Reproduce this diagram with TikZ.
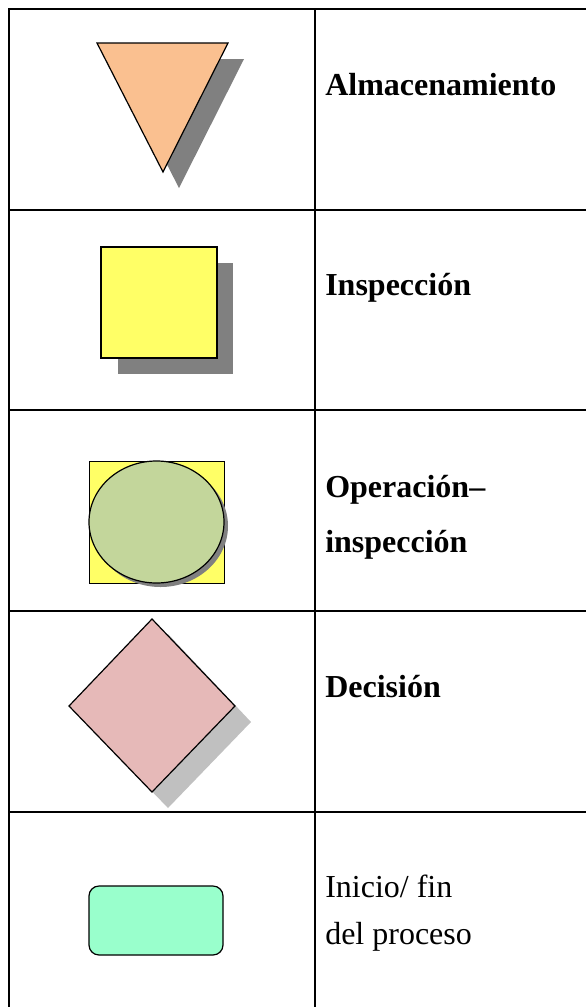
\documentclass[tikz,border=0pt]{standalone}
\usepackage{fontspec}
\setmainfont{Liberation Serif}
\usepackage{xcolor}
\usepackage{tikz}

\definecolor{almacen}{RGB}{250,192,144}
\definecolor{amarillo}{RGB}{255,255,102}
\definecolor{verdeoliva}{RGB}{195,214,155}
\definecolor{rosa}{RGB}{230,185,184}
\definecolor{menta}{RGB}{153,255,204}
\definecolor{sombra}{RGB}{128,128,128}
\definecolor{sombraclara}{RGB}{192,192,192}

\tikzset{
  tabla/.style={line width=1.5pt, black},
  figura/.style={line width=0.9pt, black},
  etiqueta/.style={anchor=base west, inner sep=0pt, font=\fontsize{24}{28}\selectfont}
}

\begin{document}
\begin{tikzpicture}[x=0.75pt, y=-0.75pt]
    \useasboundingbox (0,0) rectangle (586,1007);
    % 1. Tabla
    \draw[tabla] (9,1007) -- (9,9) -- (586,9);
    \draw[tabla] (315,9) -- (315,1007);
    \foreach \f in {210,410,611,812}
        \draw[tabla] (9,\f) -- (586,\f);

    % 2. Almacenamiento
    \fill[sombra] (113,59) -- (244,59) -- (179,188) -- cycle;
    \draw[figura, fill=almacen] (97,43) -- (228,43) -- (163,172) -- cycle;
    \node[etiqueta] (almacen) at (325,95) {\bfseries Almacenamiento};

    % 3. Inspección
    \fill[sombra] (118,263) rectangle (233,374);
    \draw[figura, fill=amarillo] (101,247) rectangle (217,358);
    \node[etiqueta] (inspec) at (325,295) {\bfseries Inspección};

    % 4. Operación--inspección
    \draw[line width=0.6pt, fill=amarillo] (89,461) rectangle (224,583);
    \fill[sombra] (160.5,526) ellipse [x radius=67.5, y radius=61];
    \draw[figura, fill=verdeoliva] (156.5,522) ellipse [x radius=67.5, y radius=61];
    \node[etiqueta] (operac) at (325,497) {\bfseries Operación–};
    \node[etiqueta] (operinsp) at (325,552) {\bfseries inspección};

    % 5. Decisión
    \fill[sombraclara] (168,634) -- (251,722) -- (168,808) -- (85,722) -- cycle;
    \draw[figura, fill=rosa] (152,619) -- (235,706) -- (152,792) -- (69,706) -- cycle;
    \node[etiqueta] (decis) at (325,697) {\bfseries Decisión};

    % 6. Inicio / fin
    \draw[figura, fill=menta, rounded corners=7.5pt] (89,886) rectangle (223,955);
    \node[etiqueta] (inicio) at (325,897) {Inicio/ fin};
    \node[etiqueta] (proceso) at (325,944) {del proceso};
\end{tikzpicture}
\end{document}
